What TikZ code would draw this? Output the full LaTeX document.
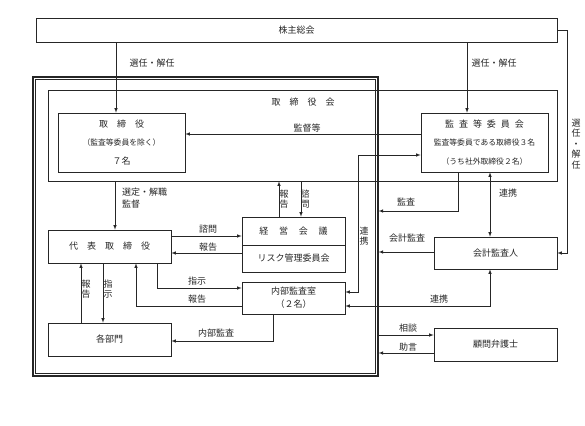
\documentclass[tikz,border=0pt]{standalone}
\usepackage{fontspec}
\setmainfont{Noto Sans CJK JP}
\usetikzlibrary{calc}

\tikzset{
  box/.style={draw, line width=0.6pt, inner sep=0pt, align=center},
  lab/.style={inner sep=0pt, font=\fontsize{9}{12}\selectfont},
  vlab/.style={inner sep=0pt, align=center, font=\fontsize{9}{10}\selectfont},
  conn/.style={line width=0.6pt, ->, >=latex},
  both/.style={line width=0.6pt, <->, >=latex},
}
\newcommand{\smalltxt}{\fontsize{7.8}{9}\selectfont}

\begin{document}
\begin{tikzpicture}[x=1pt, y=-1pt, font=\fontsize{9}{11}\selectfont, color=black!85]
        \useasboundingbox (0,0) rectangle (585,425);
        % Columns of the vertical connectors
        \coordinate (cA) at (116,0); % shareholders -> directors
        \coordinate (cB) at (467,0); % shareholders -> audit committee
        \coordinate (cC) at (115,0); % board -> representative
        \coordinate (cD) at (279,0); % management meeting -> board
        \coordinate (cE) at (301,0); % board -> management meeting
        \coordinate (cF) at (157,0); % representative -> internal audit
        \coordinate (cG) at (136,0); % internal audit -> representative
        \coordinate (cH) at (81,0);  % departments -> representative
        \coordinate (cI) at (103,0); % representative -> departments
        \coordinate (cJ) at (273,0); % internal audit -> departments
        \coordinate (cK) at (358,0); % internal audit <-> audit committee
        \coordinate (cL) at (458,0); % audit
        \coordinate (cM) at (490,0); % accounting auditor links
        \coordinate (cN) at (567,0); % right side line
        % Rows of the horizontal connectors
        \coordinate (rA) at (0,134);
        \coordinate (rB) at (0,155);
        \coordinate (rC) at (0,211);
        \coordinate (rD) at (0,236);
        \coordinate (rE) at (0,253);
        \coordinate (rF) at (0,288);
        \coordinate (rG) at (0,306);
        \coordinate (rH) at (0,292);
        \coordinate (rI) at (0,306);
        \coordinate (rJ) at (0,341);
        \coordinate (rK) at (0,252);
        \coordinate (rL) at (0,335);
        \coordinate (rM) at (0,353);
        % Boxes
        \node[box, minimum width=521pt, minimum height=24pt] (soukai) at (296.5,30) {株主総会};
        \node[draw, line width=1.2pt, inner sep=0pt, minimum width=345pt, minimum height=299pt] (frame) at (205.5,226.5) {};
        \draw[line width=0.6pt] ([shift={(3pt,-3pt)}]frame.north west) rectangle ([shift={(-3pt,3pt)}]frame.south east);
        \node[box, minimum width=509pt, minimum height=91pt] (kai) at (302.5,135.5) {};
        \node[lab] (kaititle) at (303,102) {取　締　役　会};
        \node[box, minimum width=127pt, minimum height=59pt] (tori) at (121.5,142.5)
            {取　締　役\\[7.5pt]{\smalltxt（監査等委員を除く）}\\[7.5pt]７名};
        \node[box, minimum width=127pt, minimum height=59pt] (kansa) at (484.5,142.5)
            {監\hspace{0.55em}査\hspace{0.55em}等\hspace{0.55em}委\hspace{0.55em}員\hspace{0.55em}会\\[7.5pt]{\smalltxt 監査等委員である取締役３名}\\[7.5pt]{\smalltxt（うち社外取締役２名）}};
        \node[box, minimum width=123pt, minimum height=33pt] (daihyo) at (109.5,246.5) {代　表　取　締　役};
        \node[box, minimum width=123pt, minimum height=33pt] (bumon) at (109.5,339.5) {各部門};
        \node[box, minimum width=103pt, minimum height=28pt] (keiei) at (293.5,231) {経\hspace{1.2em}営\hspace{1.2em}会\hspace{1.2em}議};
        \node[box, minimum width=103pt, minimum height=27pt] (risk) at (293.5,258.5) {リスク管理委員会};
        \node[box, minimum width=103pt, minimum height=32pt] (naibu) at (293.5,298) {内部監査室\\[2pt]（２名）};
        \node[box, minimum width=123pt, minimum height=32pt] (kaikei) at (495.5,253) {会計監査人};
        \node[box, minimum width=123pt, minimum height=33pt] (bengo) at (495.5,344.5) {顧問弁護士};
        % Connectors
        \draw[conn] (soukai.south -| cA) -- (tori.north -| cA);
        \draw[conn] (soukai.south -| cB) -- (kansa.north -| cB);
        \draw[conn] (soukai.east) -- (soukai.east -| cN) -- (kaikei.east -| cN) -- (kaikei.east);
        \draw[conn] (kansa.west |- rA) -- (tori.east |- rA);
        \draw[both] (naibu.east |- rH) -- (cK |- rH) -- (cK |- rB) -- (kansa.west |- rB);
        \draw[conn] (kansa.south -| cL) -- (cL |- rC) -- (frame.east |- rC);
        \draw[both] (kansa.south -| cM) -- (kaikei.north -| cM);
        \draw[conn] (kaikei.west |- rK) -- (frame.east |- rK);
        \draw[both] (naibu.east |- rI) -- (cM |- rI) -- (kaikei.south -| cM);
        \draw[conn] (frame.east |- rL) -- (bengo.west |- rL);
        \draw[conn] (bengo.west |- rM) -- (frame.east |- rM);
        \draw[conn] (kai.south -| cC) -- (daihyo.north -| cC);
        \draw[conn] (keiei.north -| cD) -- (kai.south -| cD);
        \draw[conn] (kai.south -| cE) -- (keiei.north -| cE);
        \draw[conn] (daihyo.east |- rD) -- (keiei.west |- rD);
        \draw[conn] (risk.west |- rE) -- (daihyo.east |- rE);
        \draw[conn] (daihyo.south -| cF) -- (cF |- rF) -- (naibu.west |- rF);
        \draw[conn] (naibu.west |- rG) -- (cG |- rG) -- (daihyo.south -| cG);
        \draw[conn] (bumon.north -| cH) -- (daihyo.south -| cH);
        \draw[conn] (daihyo.south -| cI) -- (bumon.north -| cI);
        \draw[conn] (naibu.south -| cJ) -- (cJ |- rJ) -- (bumon.east |- rJ);
        % Labels
        \node[lab] (l1) at (152,63) {選任・解任};
        \node[lab] (l2) at (494,63) {選任・解任};
        \node[vlab, font=\fontsize{9}{10.5}\selectfont] (l3) at (576,144) {選\\任\\・\\解\\任};
        \node[lab] (l4) at (307,128) {監督等};
        \node[lab, align=left, anchor=north west] (l5) at (122,188) {選定・解職\\監督};
        \node[vlab] (l6) at (284,199) {報\\告};
        \node[vlab] (l7) at (305,199) {諮\\問};
        \node[lab] (l8) at (208,229) {諮問};
        \node[lab] (l9) at (208,247) {報告};
        \node[lab] (l10) at (197,281) {指示};
        \node[lab] (l11) at (197,299) {報告};
        \node[vlab] (l12) at (86,289) {報\\告};
        \node[vlab] (l13) at (108,289) {指\\示};
        \node[lab] (l14) at (216,333) {内部監査};
        \node[vlab] (l15) at (364,236) {連\\携};
        \node[lab] (l16) at (406,202) {監査};
        \node[lab] (l17) at (407,238) {会計監査};
        \node[lab] (l18) at (508,193) {連携};
        \node[lab] (l19) at (439,299) {連携};
        \node[lab] (l20) at (408,328) {相談};
        \node[lab] (l21) at (408,347) {助言};
    \end{tikzpicture}
\end{document}
